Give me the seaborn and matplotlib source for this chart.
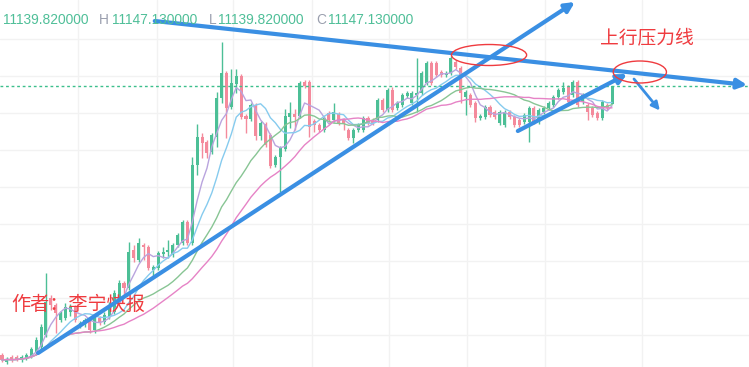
import numpy as np
import pandas as pd
import matplotlib
matplotlib.use('Agg')
import matplotlib.pyplot as plt
import seaborn as sns
from matplotlib.patches import Ellipse

# OHLC (one entry per candle)
open_ = [11039.5, 11036.7, 11038.7, 11038.7, 11037.5, 11038.3, 11038.7, 11040.3, 11042.7, 11047.5,
         11062.3, 11059.5, 11053.5, 11054.3, 11056.7, 11058.7, 11051.1, 11051.5, 11053.1, 11049.5,
         11054.3, 11052.7, 11054.7, 11056.7, 11062.7, 11068.3, 11066.3, 11081.5, 11077.5, 11083.5,
         11082.7, 11073.5, 11074.3, 11079.9, 11080.7, 11079.5, 11083.5, 11084.3, 11092.7, 11084.3,
         11115.5, 11126.7, 11124.7, 11120.7, 11126.7, 11142.3, 11152.3, 11138.7, 11147.9, 11151.1,
         11135.1, 11133.9, 11139.5, 11127.1, 11131.9, 11127.5, 11115.5, 11118.7, 11121.9, 11134.7,
         11135.9, 11135.1, 11148.7, 11148.7, 11133.1, 11131.5, 11129.5, 11136.3, 11133.5, 11135.9,
         11133.5, 11129.5, 11126.3, 11129.5, 11129.5, 11134.3, 11133.5, 11133.5, 11141.5, 11137.5,
         11145.5, 11138.3, 11139.5, 11143.1, 11140.3, 11143.5, 11144.3, 11148.3, 11156.3, 11156.3,
         11152.7, 11151.5, 11152.3, 11156.7, 11154.3, 11142.7, 11143.5, 11140.3, 11134.3, 11134.7,
         11138.7, 11136.7, 11132.3, 11131.5, 11136.7, 11134.7, 11133.5, 11132.7, 11132.7, 11138.3,
         11132.7, 11136.7, 11138.3, 11139.5, 11142.7, 11144.7, 11146.7, 11143.5, 11148.7, 11140.7,
         11139.5, 11138.3, 11136.3, 11134.3, 11139.5, 11139.82]
high = [11040.3, 11038.7, 11039.5, 11039.5, 11039.5, 11040.3, 11042.7, 11046.7, 11051.9, 11072.3,
        11063.5, 11060.3, 11057.1, 11060.3, 11059.9, 11059.5, 11053.1, 11054.3, 11053.9, 11055.1,
        11055.1, 11056.7, 11060.7, 11065.5, 11069.5, 11069.1, 11084.7, 11083.5, 11086.3, 11084.3,
        11083.5, 11075.5, 11081.1, 11082.7, 11085.5, 11084.3, 11088.3, 11093.5, 11093.5, 11118.7,
        11131.9, 11128.3, 11125.5, 11128.3, 11144.7, 11164.7, 11153.1, 11153.9, 11153.9, 11151.9,
        11135.9, 11140.3, 11140.3, 11133.1, 11132.7, 11128.3, 11119.5, 11123.1, 11137.9, 11140.7,
        11137.9, 11149.1, 11149.5, 11149.5, 11133.9, 11132.3, 11135.1, 11137.1, 11140.3, 11136.7,
        11134.3, 11130.3, 11130.3, 11132.3, 11135.1, 11135.1, 11134.3, 11142.3, 11142.3, 11146.3,
        11146.7, 11141.1, 11144.3, 11145.1, 11145.1, 11158.3, 11153.1, 11157.1, 11157.1, 11157.1,
        11153.5, 11153.1, 11159.1, 11157.5, 11155.1, 11145.5, 11144.3, 11141.1, 11135.9, 11139.5,
        11139.5, 11137.5, 11137.5, 11137.5, 11137.5, 11135.5, 11134.3, 11136.3, 11139.1, 11139.1,
        11138.3, 11139.1, 11141.1, 11143.5, 11146.3, 11148.7, 11147.5, 11149.5, 11149.5, 11144.3,
        11140.3, 11139.1, 11137.1, 11141.5, 11140.3, 11147.13]
low = [11036.7, 11035.9, 11036.7, 11037.1, 11036.7, 11037.5, 11038.3, 11039.5, 11041.9, 11046.7,
       11057.5, 11048.3, 11052.7, 11053.5, 11055.1, 11052.7, 11050.3, 11050.7, 11048.3, 11048.3,
       11051.5, 11051.9, 11053.9, 11055.9, 11061.5, 11063.5, 11065.5, 11076.7, 11076.7, 11077.5,
       11073.5, 11070.7, 11073.5, 11078.3, 11078.3, 11078.7, 11082.7, 11083.5, 11083.5, 11083.5,
       11111.5, 11118.3, 11118.3, 11119.9, 11122.7, 11140.3, 11126.3, 11137.9, 11144.3, 11133.9,
       11128.3, 11133.1, 11125.5, 11125.5, 11122.7, 11114.3, 11114.7, 11104.7, 11121.1, 11130.3,
       11129.5, 11134.3, 11146.3, 11126.7, 11128.7, 11128.7, 11128.7, 11132.7, 11132.7, 11131.5,
       11129.5, 11125.5, 11124.3, 11128.7, 11128.7, 11131.5, 11131.5, 11132.7, 11136.7, 11136.7,
       11136.7, 11137.5, 11138.7, 11142.3, 11139.5, 11136.7, 11143.5, 11147.5, 11147.5, 11150.7,
       11150.7, 11150.7, 11151.5, 11153.9, 11140.3, 11135.5, 11138.7, 11132.7, 11133.5, 11133.9,
       11134.7, 11133.9, 11131.5, 11130.7, 11133.9, 11130.7, 11130.7, 11131.9, 11124.7, 11131.9,
       11131.9, 11135.9, 11137.5, 11138.7, 11141.9, 11143.9, 11139.9, 11142.7, 11138.7, 11139.9,
       11133.5, 11134.7, 11133.5, 11133.5, 11137.5, 11139.82]
close = [11037.5, 11037.9, 11037.5, 11037.9, 11038.7, 11039.5, 11041.9, 11045.5, 11050.7, 11060.7,
         11059.5, 11056.3, 11056.3, 11058.7, 11058.7, 11053.5, 11052.3, 11053.5, 11049.5, 11054.3,
         11052.7, 11055.5, 11059.5, 11064.3, 11068.3, 11066.3, 11080.7, 11078.3, 11084.3, 11082.7,
         11074.3, 11074.7, 11080.3, 11080.7, 11081.5, 11083.5, 11087.5, 11092.7, 11084.3, 11115.5,
         11126.7, 11124.3, 11120.3, 11127.5, 11142.3, 11152.3, 11138.3, 11148.3, 11151.1, 11134.7,
         11133.9, 11139.5, 11127.1, 11132.3, 11123.5, 11115.1, 11118.7, 11122.3, 11135.1, 11136.3,
         11134.7, 11148.3, 11147.1, 11130.7, 11131.5, 11129.5, 11134.3, 11133.5, 11136.7, 11132.3,
         11132.3, 11126.3, 11129.5, 11131.5, 11134.3, 11132.3, 11132.3, 11141.5, 11137.5, 11145.5,
         11137.5, 11140.3, 11143.5, 11144.3, 11144.3, 11144.3, 11152.3, 11156.3, 11148.3, 11151.5,
         11151.5, 11152.3, 11158.3, 11154.7, 11144.3, 11144.7, 11139.5, 11134.3, 11135.1, 11138.7,
         11135.5, 11134.7, 11136.7, 11136.7, 11134.7, 11131.5, 11131.5, 11135.5, 11138.3, 11132.7,
         11137.5, 11138.3, 11140.3, 11142.7, 11145.5, 11146.3, 11140.7, 11148.7, 11139.5, 11143.5,
         11136.7, 11135.5, 11134.3, 11140.7, 11138.3, 11147.13]

ma_periods = [5, 10, 20, 30]
ma_colors = ['#b9a4de', '#86cbee', '#88c594', '#e683c6']

# hand-drawn annotations: (candle index, price)
trend_lines = [
    ((31.3, 11173.1), (152.7, 11147.5), 3.0),   # upper pressure line
    ((7.4, 11040.3), (117.4, 11180.7), 3.0),    # long rising line
    ((105.7, 11129.1), (128.1, 11151.9), 3.0),  # short rising line
    ((129.5, 11149.9), (134.8, 11137.3), 2.0),  # break-down arrow
]
circles = [((99.8, 11159.5), 15.4, 8.4), ((130.7, 11152.7), 10.9, 8.8)]
v_grid = [15.6, 31.8, 47.3, 63.5, 79.3, 95.3, 111.3, 131.1]
h_grid = np.arange(11047.5, 11170, 14.8)

GREEN = '#4cbf96'
PINK = '#f48a9c'
BLUE = '#3a8fe3'
RED = '#ef3b3f'

sns.set_theme(style='white')
plt.rcParams['font.family'] = ['Noto Sans CJK SC', 'DejaVu Sans']

fig = plt.figure(figsize=(7.49, 3.67), dpi=100)
ax = fig.add_axes([0, 0, 1, 1])

o = np.array(open_)
c = np.array(close)
x = np.arange(len(c))
cols = np.where(c >= o, GREEN, PINK)

ax.vlines(x, low, high, colors=cols, lw=1, zorder=2)
ax.bar(x, np.maximum(np.abs(c - o), 0.5), bottom=np.minimum(o, c), width=0.62,
       color=cols, linewidth=0, zorder=2)

for n, col in zip(ma_periods, ma_colors):
    ma = pd.Series(c).rolling(n, min_periods=1).mean()
    sns.lineplot(x=x, y=ma, color=col, lw=1, ax=ax, zorder=3)

ax.axhline(c[-1], color='#3cbf8c', lw=1, ls=(0, (2, 2)), zorder=3)

for (x0, y0), (x1, y1), w in trend_lines:
    ax.annotate('', xy=(x1, y1), xytext=(x0, y0),
                arrowprops=dict(arrowstyle='-|>', color=BLUE, lw=w,
                                mutation_scale=14 if w > 2 else 12,
                                shrinkA=0, shrinkB=0), zorder=4)

for (cx, cy), w, h in circles:
    ax.add_patch(Ellipse((cx, cy), w, h, fill=False, edgecolor=RED, lw=1, zorder=5))

ax.text(122.5, 11165.9, '上行压力线', color=RED, fontsize=13.5, va='center', ha='left')
ax.text(2.0, 11059.9, '作者：李宁快报', color=RED, fontsize=13.8, va='center', ha='left')

ax.set_xlim(-0.41, 153.07)
ax.set_ylim(11034.7, 11181.5)
ax.set_xticks(v_grid)
ax.set_yticks(h_grid)
ax.tick_params(length=0, labelbottom=False, labelleft=False)
ax.grid(True, color='#f2f2f2', lw=1)
ax.set_axisbelow(True)
for s in ax.spines.values():
    s.set_visible(False)
ax.set_xlabel('')
ax.set_ylabel('')

# OHLC header
hdr = [(3, '11139.820000', '#4fbf98'), (99, 'H', '#9a9fae'), (112, '11147.130000', '#4fbf98'),
       (209, 'L', '#9a9fae'), (218, '11139.820000', '#4fbf98'), (316, 'C', '#9a9fae'),
       (328, '11147.130000', '#4fbf98')]
for px, s, col in hdr:
    fig.text(px / 749, 1 - 20.5 / 367, s, color=col, fontsize=9.9, va='center', ha='left',
             family='Liberation Sans')

fig.savefig('out.png', dpi=100)
